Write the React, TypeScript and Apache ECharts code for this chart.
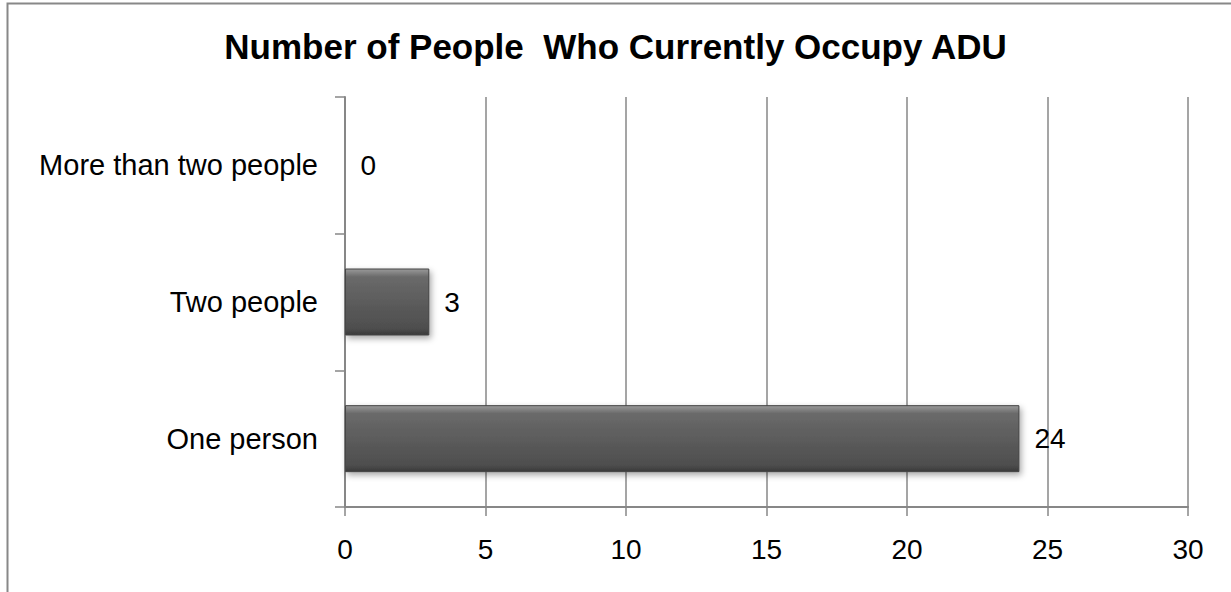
import React, { useEffect, useRef } from "react";
import * as echarts from "echarts";

const categories: string[] = ["One person", "Two people", "More than two people"];
const values: number[] = [24, 3, 0];
const xTicks = { min: 0, max: 30, interval: 5 };
const titleText = "Number of People  Who Currently Occupy ADU";

export default function App() {
  const ref = useRef<HTMLDivElement>(null);
  useEffect(() => {
    if (!ref.current) return;
    const chart = echarts.init(ref.current, undefined, { renderer: "svg" });
    const font = "'Liberation Sans', Arial, sans-serif";
    chart.setOption({
      animation: false,
      backgroundColor: "#ffffff",
      title: {
        text: titleText,
        left: "center",
        top: 24,
        textStyle: { fontFamily: font, fontSize: 35, fontWeight: "bold", color: "#000" },
      },
      graphic: [
        {
          type: "rect",
          shape: { x: 7.5, y: 3.5, width: 1240, height: 620 },
          style: { fill: "none", stroke: "#888888", lineWidth: 2 },
          silent: true,
        },
      ],
      grid: { left: 345, right: 43, top: 97, bottom: 85, containLabel: false },
      xAxis: {
        type: "value",
        min: xTicks.min,
        max: xTicks.max,
        interval: xTicks.interval,
        axisLine: { show: true, lineStyle: { color: "#878787", width: 2 } },
        axisTick: { show: true, length: 9, lineStyle: { color: "#878787", width: 1.5 } },
        splitLine: { show: true, lineStyle: { color: "#878787", width: 1.5 } },
        axisLabel: { margin: 28, fontFamily: font, fontSize: 28, color: "#000" },
      },
      yAxis: {
        type: "category",
        data: categories,
        axisLine: { show: true, lineStyle: { color: "#878787", width: 2 } },
        axisTick: { show: true, length: 10, lineStyle: { color: "#878787", width: 1.5 } },
        axisLabel: { margin: 27, fontFamily: font, fontSize: 29, color: "#000" },
      },
      series: [
        {
          type: "bar",
          data: values,
          barWidth: 67,
          itemStyle: {
            color: new echarts.graphic.LinearGradient(0, 0, 0, 1, [
              { offset: 0, color: "#9a9a9a" },
              { offset: 0.12, color: "#6a6a6a" },
              { offset: 0.5, color: "#5c5c5c" },
              { offset: 0.9, color: "#4e4e4e" },
              { offset: 1, color: "#3a3a3a" },
            ]),
            borderColor: "#444444",
            borderWidth: 1,
            shadowColor: "rgba(0,0,0,0.35)",
            shadowBlur: 6,
            shadowOffsetX: 2,
            shadowOffsetY: 3,
          },
          label: {
            show: true,
            position: "right",
            distance: 15,
            fontFamily: font,
            fontSize: 28,
            color: "#000",
          },
        },
      ],
    });
    return () => chart.dispose();
  }, []);
  return (
    <div
      ref={ref}
      style={{ position: "absolute", left: 0, top: 0, width: 1231, height: 592 }}
    />
  );
}
